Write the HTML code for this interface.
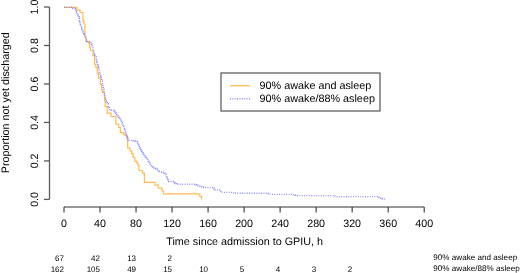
<!DOCTYPE html>
<html><head><meta charset="utf-8"><style>
html,body{margin:0;padding:0;background:#fff;}
svg{display:block;}
text{font-family:"Liberation Sans",sans-serif;fill:#000;stroke:none;text-rendering:geometricPrecision;}
</style></head><body>
<svg width="520" height="273" viewBox="0 0 520 273">
<rect width="520" height="273" fill="#fff"/>
<g style="will-change:transform">
<g stroke="#333" stroke-width="1.1" fill="none">
<line x1="49.5" y1="199.40" x2="49.5" y2="7.00" stroke="#5a5a5a" stroke-width="1.3"/>
<line x1="64" y1="207" x2="424.20" y2="207"/>
</g>
<g stroke="#333" stroke-width="1.1" font-size="10.7"><line x1="44" y1="199.40" x2="49.5" y2="199.40" stroke="#5a5a5a" stroke-width="1.3"/><text transform="translate(37.8,199.40) rotate(-90)" text-anchor="middle">0.0</text><line x1="44" y1="160.92" x2="49.5" y2="160.92" stroke="#5a5a5a" stroke-width="1.3"/><text transform="translate(37.8,160.92) rotate(-90)" text-anchor="middle">0.2</text><line x1="44" y1="122.44" x2="49.5" y2="122.44" stroke="#5a5a5a" stroke-width="1.3"/><text transform="translate(37.8,122.44) rotate(-90)" text-anchor="middle">0.4</text><line x1="44" y1="83.96" x2="49.5" y2="83.96" stroke="#5a5a5a" stroke-width="1.3"/><text transform="translate(37.8,83.96) rotate(-90)" text-anchor="middle">0.6</text><line x1="44" y1="45.48" x2="49.5" y2="45.48" stroke="#5a5a5a" stroke-width="1.3"/><text transform="translate(37.8,45.48) rotate(-90)" text-anchor="middle">0.8</text><line x1="44" y1="7.00" x2="49.5" y2="7.00" stroke="#5a5a5a" stroke-width="1.3"/><text transform="translate(37.8,7.00) rotate(-90)" text-anchor="middle">1.0</text><line x1="64.00" y1="207" x2="64.00" y2="212.5"/><text x="64.00" y="227" text-anchor="middle">0</text><line x1="100.02" y1="207" x2="100.02" y2="212.5"/><text x="100.02" y="227" text-anchor="middle">40</text><line x1="136.04" y1="207" x2="136.04" y2="212.5"/><text x="136.04" y="227" text-anchor="middle">80</text><line x1="172.06" y1="207" x2="172.06" y2="212.5"/><text x="172.06" y="227" text-anchor="middle">120</text><line x1="208.08" y1="207" x2="208.08" y2="212.5"/><text x="208.08" y="227" text-anchor="middle">160</text><line x1="244.10" y1="207" x2="244.10" y2="212.5"/><text x="244.10" y="227" text-anchor="middle">200</text><line x1="280.12" y1="207" x2="280.12" y2="212.5"/><text x="280.12" y="227" text-anchor="middle">240</text><line x1="316.14" y1="207" x2="316.14" y2="212.5"/><text x="316.14" y="227" text-anchor="middle">280</text><line x1="352.16" y1="207" x2="352.16" y2="212.5"/><text x="352.16" y="227" text-anchor="middle">320</text><line x1="388.18" y1="207" x2="388.18" y2="212.5"/><text x="388.18" y="227" text-anchor="middle">360</text><line x1="424.20" y1="207" x2="424.20" y2="212.5"/><text x="424.20" y="227" text-anchor="middle">400</text></g>
<g font-size="10.7" stroke="none">
<text x="244.7" y="245.0" text-anchor="middle" font-size="10.8">Time since admission to GPIU, h</text>
<text transform="translate(8.6,102.7) rotate(-90)" text-anchor="middle" font-size="10.8">Proportion not yet discharged</text>
</g>
<path d="M64,7.3 H76.8 V10.1 H80.1 V12.5 H82.9 V21.2 H84.1 V24 H85 V37 H86 V41.3 H88.5 V43.3 H89.5 V47.7 H90.5 V50.5 H93 V55.6 H94.5 V64.1 H95.8 V67.3 H97.3 V73.2 H98.4 V78.1 H100.3 V84.5 H101.7 V90.4 H102.6 V92.4 H104.3 V96.5 H104.7 V101 H105.2 V106.6 H107.1 V113.2 H111 V116.5 H115.9 V124.2 H118.7 V127.5 H120.3 V132.7 H123.7 V134.9 H126.6 V136.6 H127.7 V148.1 H129.9 V150.9 H131.6 V153.6 H133.2 V157.3 H134.8 V161.3 H136.9 V163.3 H138.1 V165.7 H138.9 V170.5 H142.3 V173.2 H144.4 V182.3 H154.9 V185.2 H158.3 V188.1 H162 V191 H163.5 V193.9 H199.8 V196.5 H201.5 V199.4" fill="none" stroke="#FFBA55" stroke-width="1.2"/>
<path d="M64,7.3 H72.00 V7.30 H72.50 V7.85 H73.00 V8.40 H75.30 V8.70 H75.52 V9.42 H75.74 V10.14 H75.96 V10.86 H76.18 V11.58 H76.40 V12.30 H76.73 V12.97 H77.07 V13.63 H77.40 V14.30 H77.77 V14.87 H78.13 V15.43 H78.50 V16.00 H78.77 V16.67 H79.03 V17.33 H79.30 V18.00 H79.50 V21.20 H79.65 V21.88 H79.80 V22.57 H79.95 V23.25 H80.10 V23.93 H80.25 V24.62 H80.40 V25.30 H80.73 V26.10 H81.05 V26.90 H81.38 V27.70 H81.70 V28.50 H81.94 V29.22 H82.18 V29.94 H82.42 V30.66 H82.66 V31.38 H82.90 V32.10 H83.30 V32.90 H83.70 V33.70 H84.10 V34.50 H84.50 V35.30 H84.90 V35.97 H85.30 V36.63 H85.70 V37.30 H86.00 V39.60 H86.43 V40.30 H86.87 V41.00 H87.30 V41.70 H90.10 V41.70 H90.50 V42.47 H90.90 V43.23 H91.30 V44.00 H91.60 V44.62 H91.90 V45.25 H92.20 V45.88 H92.50 V46.50 H92.90 V48.50 H93.30 V50.50 H93.70 V52.50 H93.94 V53.20 H94.18 V53.90 H94.42 V54.60 H94.66 V55.30 H94.90 V56.00 H95.50 V56.60 H96.10 V57.20 H96.10 V59.70 H96.34 V60.42 H96.58 V61.14 H96.82 V61.86 H97.06 V62.58 H97.30 V63.30 H97.70 V65.30 H98.00 V66.00 H98.30 V66.70 H98.60 V67.40 H98.90 V68.10 H99.30 V71.30 H99.50 V73.20 H99.75 V73.90 H100.00 V74.60 H100.25 V75.30 H100.50 V76.00 H100.77 V76.70 H101.03 V77.40 H101.30 V78.10 H101.70 V80.50 H101.97 V81.17 H102.23 V81.83 H102.50 V82.50 H102.50 V84.50 H102.90 V86.50 H103.30 V88.50 H103.57 V89.17 H103.83 V89.83 H104.10 V90.50 H104.10 V91.60 H104.50 V94.40 H104.90 V96.90 H105.30 V99.30 H105.70 V100.90 H106.10 V101.50 H106.50 V102.10 H106.90 V102.63 H107.30 V103.17 H107.70 V103.70 H108.20 V106.50 H108.57 V107.07 H108.93 V107.63 H109.30 V108.20 H109.60 V108.90 H109.90 V109.60 H110.20 V110.30 H113.70 V110.60 H114.27 V111.27 H114.83 V111.93 H115.40 V112.60 H115.84 V113.26 H116.28 V113.92 H116.72 V114.58 H117.16 V115.24 H117.60 V115.90 H118.04 V116.56 H118.48 V117.22 H118.92 V117.88 H119.36 V118.54 H119.80 V119.20 H120.24 V119.96 H120.68 V120.72 H121.12 V121.48 H121.56 V122.24 H122.00 V123.00 H122.32 V123.68 H122.64 V124.36 H122.96 V125.04 H123.28 V125.72 H123.60 V126.40 H123.88 V127.08 H124.15 V127.75 H124.42 V128.43 H124.70 V129.10 H124.86 V129.82 H125.02 V130.54 H125.18 V131.26 H125.34 V131.98 H125.50 V132.70 H125.74 V133.41 H125.99 V134.13 H126.23 V134.84 H126.47 V135.56 H126.71 V136.27 H126.96 V136.99 H127.20 V137.70 H127.48 V138.38 H127.75 V139.05 H128.03 V139.72 H128.30 V140.40 H133.00 V140.60 H133.67 V140.83 H134.33 V141.07 H135.00 V141.30 H137.00 V141.50 H137.27 V142.17 H137.53 V142.83 H137.80 V143.50 H138.10 V144.12 H138.40 V144.75 H138.70 V145.38 H139.00 V146.00 H139.38 V146.75 H139.75 V147.50 H140.12 V148.25 H140.50 V149.00 H140.90 V149.76 H141.30 V150.52 H141.70 V151.28 H142.10 V152.04 H142.50 V152.80 H142.96 V153.50 H143.42 V154.20 H143.88 V154.90 H144.34 V155.60 H144.80 V156.30 H145.28 V156.96 H145.76 V157.62 H146.24 V158.28 H146.72 V158.94 H147.20 V159.60 H147.72 V160.35 H148.25 V161.10 H148.78 V161.85 H149.30 V162.60 H149.80 V163.40 H150.30 V164.20 H150.80 V165.00 H151.30 V165.80 H151.80 V166.60 H152.53 V167.00 H153.25 V167.40 H153.97 V167.80 H154.70 V168.20 H155.32 V168.47 H155.95 V168.75 H156.57 V169.03 H157.20 V169.30 H157.70 V170.00 H158.20 V170.70 H158.70 V171.40 H159.43 V171.63 H160.17 V171.87 H160.90 V172.10 H161.62 V172.28 H162.35 V172.45 H163.08 V172.62 H163.80 V172.80 H164.47 V173.40 H165.13 V174.00 H165.80 V174.60 H166.02 V175.30 H166.24 V176.00 H166.46 V176.70 H166.68 V177.40 H166.90 V178.10 H167.26 V178.78 H167.62 V179.46 H167.98 V180.14 H168.34 V180.82 H168.70 V181.50 H172.70 V181.50 H173.47 V182.10 H174.23 V182.70 H175.00 V183.30 H175.77 V183.63 H176.53 V183.97 H177.30 V184.30 H195.30 V184.30 H196.00 V184.75 H196.70 V185.20 H197.30 V185.38 H197.90 V185.55 H198.50 V185.72 H199.10 V185.90 H199.78 V186.08 H200.46 V186.26 H201.14 V186.44 H201.82 V186.62 H202.50 V186.80 H203.00 V187.20 H203.50 V187.60 H213.10 V187.60 H213.57 V188.20 H214.05 V188.80 H214.53 V189.40 H215.00 V190.00 H220.30 V190.00 H220.80 V192.40 H232.30 V192.40 H233.05 V192.85 H233.80 V193.30 H268.00 V193.30 H268.40 V193.85 H268.80 V194.40 H294.00 V194.40 H294.57 V194.80 H295.13 V195.20 H295.70 V195.60 H334.40 V195.60 H334.95 V196.10 H335.50 V196.60 H376.80 V196.60 H377.55 V197.00 H378.30 V197.40 H379.05 V197.80 H379.80 V198.20 H380.58 V198.38 H381.37 V198.57 H382.15 V198.75 H382.93 V198.93 H383.72 V199.12 H384.50 V199.30" fill="none" stroke="#8484FF" stroke-width="1.4" stroke-dasharray="0.9 1.48"/>
<rect x="221" y="73" width="159" height="38" fill="none" stroke="#444" stroke-width="1.1"/>
<line x1="230" y1="85.7" x2="250.2" y2="85.7" stroke="#FFBA55" stroke-width="1.2"/>
<line x1="230" y1="98.7" x2="251" y2="98.7" stroke="#8484FF" stroke-width="1.4" stroke-dasharray="0.9 1.48"/>
<g font-size="10.82">
<text x="259.5" y="88.7">90% awake and asleep</text>
<text x="259.5" y="101.5">90% awake/88% asleep</text>
</g>
<g font-size="8"><text x="64.00" y="261.0" text-anchor="end">67</text><text x="100.02" y="261.0" text-anchor="end">42</text><text x="136.04" y="261.0" text-anchor="end">13</text><text x="172.06" y="261.0" text-anchor="end">2</text><text x="64.00" y="271.7" text-anchor="end">162</text><text x="100.02" y="271.7" text-anchor="end">105</text><text x="136.04" y="271.7" text-anchor="end">49</text><text x="172.06" y="271.7" text-anchor="end">15</text><text x="208.08" y="271.7" text-anchor="end">10</text><text x="244.10" y="271.7" text-anchor="end">5</text><text x="280.12" y="271.7" text-anchor="end">4</text><text x="316.14" y="271.7" text-anchor="end">3</text><text x="352.16" y="271.7" text-anchor="end">2</text>
<text x="433.3" y="260.3" font-size="8.12">90% awake and asleep</text>
<text x="433.3" y="271.0" font-size="8.12">90% awake/88% asleep</text>
</g>
</g>
</svg>
</body></html>
